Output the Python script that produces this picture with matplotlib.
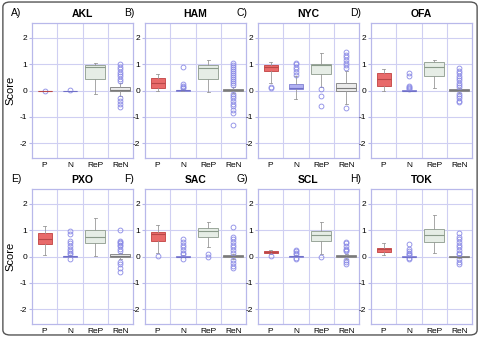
import matplotlib
matplotlib.use('Agg')
import matplotlib.pyplot as plt
from matplotlib.patches import FancyBboxPatch

plt.rcParams['font.family'] = ['Liberation Sans', 'DejaVu Sans']

cities = ['AKL', 'HAM', 'NYC', 'OFA', 'PXO', 'SAC', 'SCL', 'TOK']
letters = ['A)', 'B)', 'C)', 'D)', 'E)', 'F)', 'G)', 'H)']
cats = ['P', 'N', 'ReP', 'ReN']

# box stats per city, order P, N, ReP, ReN
q1 = [[0.0, 0.0, 0.42, -0.02], [0.1, 0.0, 0.43, -0.02], [0.72, 0.05, 0.62, 0.0], [0.17, 0.0, 0.55, -0.02],
      [0.47, 0.0, 0.5, -0.02], [0.6, 0.0, 0.72, -0.02], [0.13, 0.0, 0.6, -0.02], [0.18, 0.0, 0.55, -0.02]]
med = [[0.0, 0.0, 0.9, 0.02], [0.3, 0.02, 0.85, 0.02], [0.88, 0.1, 0.95, 0.1], [0.42, 0.0, 0.9, 0.02],
       [0.65, 0.02, 0.72, 0.03], [0.85, 0.0, 0.97, 0.01], [0.17, 0.02, 0.8, 0.01], [0.27, 0.0, 0.8, 0.0]]
q3 = [[0.0, 0.0, 0.96, 0.15], [0.48, 0.03, 0.95, 0.07], [0.98, 0.25, 1.0, 0.3], [0.65, 0.02, 1.07, 0.06],
      [0.88, 0.03, 1.0, 0.1], [0.93, 0.02, 1.07, 0.05], [0.2, 0.03, 0.97, 0.05], [0.33, 0.01, 1.05, 0.03]]
whislo = [[0.0, 0.0, -0.12, -0.2], [0.0, 0.0, -0.07, -0.1], [0.28, -0.32, 0.12, -0.5], [0.0, 0.0, 0.1, -0.1],
          [0.05, 0.0, 0.02, -0.1], [0.15, 0.0, 0.35, -0.08], [0.1, 0.0, 0.1, -0.08], [0.05, 0.0, 0.15, -0.05]]
whishi = [[0.0, 0.0, 1.05, 0.28], [0.62, 0.05, 1.15, 0.15], [1.07, 0.55, 1.4, 0.75], [0.8, 0.03, 1.15, 0.1],
          [1.15, 0.05, 1.45, 0.15], [1.18, 0.05, 1.3, 0.1], [0.25, 0.05, 1.3, 0.08], [0.5, 0.02, 1.55, 0.05]]
fliers = [
    [[0.0], [0.02], [], [0.35, 0.45, 0.55, 0.62, 0.7, 0.8, 0.9, 1.0, -0.3, -0.4, -0.5, -0.62]],
    [[], [0.9, 0.25, 0.18, 0.14, 0.1], [], [0.2, 0.28, 0.36, 0.44, 0.5, 0.58, 0.66, 0.74, 0.82, 0.9, 0.98, 1.05,
                                           -0.15, -0.22, -0.3, -0.4, -0.5, -0.6, -0.72, -0.85, -1.3]],
    [[0.15, 0.1], [0.6, 0.7, 0.8, 0.9, 1.0, 1.05], [0.05, -0.2, -0.58],
     [0.85, 0.95, 1.05, 1.15, 1.25, 1.35, 1.45, -0.65]],
    [[], [0.65, 0.55, 0.18, 0.12, 0.08, 0.05], [],
     [0.15, 0.22, 0.3, 0.38, 0.46, 0.55, 0.65, 0.75, 0.85, -0.15, -0.22, -0.3, -0.38, -0.45]],
    [[], [0.95, 0.85, 0.6, 0.5, 0.4, 0.3, 0.2, 0.15, 0.1, -0.1], [],
     [1.0, 0.6, 0.55, 0.5, 0.45, 0.4, 0.3, 0.2, -0.2, -0.3, -0.45, -0.6]],
    [[0.02], [0.65, 0.55, 0.45, 0.35, 0.25, 0.15, 0.1, -0.1], [0.1, 0.0],
     [1.1, 0.75, 0.65, 0.55, 0.45, 0.35, 0.25, 0.15, -0.15, -0.25, -0.35, -0.45]],
    [[0.02], [0.25, 0.2, 0.15, 0.1, -0.05, -0.1], [0.0],
     [0.55, 0.5, 0.4, 0.3, 0.25, 0.2, -0.15, -0.2, -0.3]],
    [[], [0.48, 0.3, 0.2, 0.15, 0.1, 0.05, -0.05, -0.1], [],
     [0.88, 0.75, 0.65, 0.55, 0.45, 0.35, 0.25, 0.15, 0.1, -0.1, -0.2, -0.28]],
]

face = ['#e86a6a', '#b0b0f2', '#e6ede6', '#ebebeb']
edge = ['#c85050', '#8c8cd8', '#9aa69a', '#8c8c8c']
medc = ['#b84848', '#7070c8', '#8a9a8a', '#7a7a7a']
widths = [0.55, 0.55, 0.8, 0.8]
grid_c = '#cfcff2'

fig = plt.figure(figsize=(4.8, 3.37), dpi=100)
fig.patches.append(FancyBboxPatch((0.006, 0.006), 0.988, 0.988, boxstyle='round,pad=0,rounding_size=0.015',
                                  transform=fig.transFigure, fill=False, ec='#555555', lw=1.0))

lefts = [32, 145, 258, 371]
for i, city in enumerate(cities):
    row, col = divmod(i, 4)
    top = 23 if row == 0 else 189
    ax = fig.add_axes([lefts[col] / 480, 1 - (top + 135) / 337, 101 / 480, 135 / 337])
    for j in range(4):
        st = dict(q1=q1[i][j], med=med[i][j], q3=q3[i][j], whislo=whislo[i][j],
                  whishi=whishi[i][j], fliers=fliers[i][j])
        ax.bxp([st], positions=[j + 1], widths=widths[j], patch_artist=True, showfliers=True,
               boxprops=dict(facecolor=face[j], edgecolor=edge[j], lw=0.7),
               medianprops=dict(color=medc[j], lw=0.8),
               whiskerprops=dict(color='#999999', lw=0.6),
               capprops=dict(color='#999999', lw=0.6),
               capwidths=0.12,
               flierprops=dict(marker='o', mfc='none', mec='#8a8ae6', ms=3.5, mew=0.6))
    ax.set_xlim(0.5, 4.5)
    ax.set_ylim(-2.55, 2.55)
    ax.set_yticks([-2, -1, 0, 1, 2])
    ax.set_yticklabels(['-2', '-1', '0', '1', '2'])
    ax.set_xticks([1, 2, 3, 4])
    ax.set_xticklabels(cats)
    for v in [1.5, 2.5, 3.5]:
        ax.axvline(v, color=grid_c, lw=0.8, zorder=0)
    for v in [-2, -1, 0, 1, 2]:
        ax.axhline(v, color=grid_c, lw=0.8, zorder=0)
    for s in ax.spines.values():
        s.set_color('#b8b8ea')
        s.set_linewidth(0.9)
    ax.tick_params(axis='y', labelsize=6, length=2, color='#b8b8ea', pad=1.5)
    ax.tick_params(axis='x', labelsize=6, length=0, pad=3)
    ax.set_title(city, fontsize=7.5, fontweight='bold', pad=4)
    ax.text(-0.21, 1.04, letters[i], transform=ax.transAxes, fontsize=7.5, ha='left', va='bottom')
    if col == 0:
        ax.set_ylabel('Score', fontsize=8, labelpad=3)

fig.savefig('out.png', dpi=100)
